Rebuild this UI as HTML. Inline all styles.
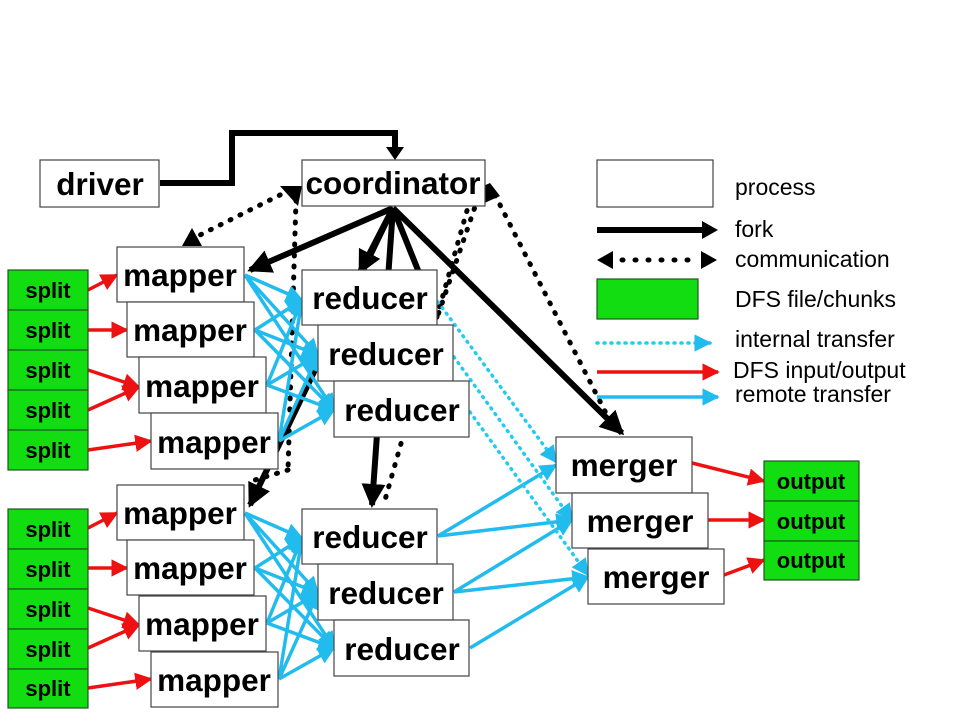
<!DOCTYPE html>
<html><head><style>body{margin:0;background:#fff}svg{display:block}
.b{font-family:"Liberation Sans",Arial,sans-serif;font-weight:bold;font-size:31.5px}
.s{font-family:"Liberation Sans",Arial,sans-serif;font-weight:bold;font-size:22px}
.l{font-family:"Liberation Sans",Arial,sans-serif;font-size:23px}
</style></head><body>
<svg width="954" height="715" viewBox="0 0 954 715" xmlns="http://www.w3.org/2000/svg">
<defs>
<marker id="ak" markerWidth="4" markerHeight="4" refX="3.5" refY="2" orient="auto" markerUnits="strokeWidth"><path d="M0,0L4,2L0,4z" fill="#000"/></marker>
<marker id="ar" markerWidth="5" markerHeight="5" refX="4.5" refY="2.5" orient="auto" markerUnits="strokeWidth"><path d="M0,0L5,2.5L0,5z" fill="#ee1111"/></marker>
<marker id="ab" markerWidth="5" markerHeight="5" refX="4.5" refY="2.5" orient="auto" markerUnits="strokeWidth"><path d="M0,0L5,2.5L0,5z" fill="#22bbee"/></marker>
</defs>
<polyline points="160,183 232,183 232,133 395,133 395,150" fill="none" stroke="#000" stroke-width="6"/>
<path d="M386,147L404,147L395,160z" fill="#000"/>

<g stroke="#000" stroke-width="5" stroke-dasharray="1,10" stroke-linecap="round" fill="none">
<line x1="290" y1="190" x2="190" y2="240"/>
<line x1="296" y1="200" x2="288" y2="470"/>
<line x1="288" y1="470" x2="255" y2="480"/>
<line x1="478" y1="198" x2="438" y2="315"/>
<line x1="470" y1="200" x2="385" y2="500"/>
<line x1="495" y1="195" x2="612" y2="425"/>
</g>
<path d="M280,186L302,186L298,206z" fill="#000"/>
<path d="M182,246L192,228L202,246z" fill="#000"/>
<path d="M468,193L490,183L500,196L480,205z" fill="#000"/>

<g stroke="#000" stroke-width="6" fill="none" marker-end="url(#ak)">
<line x1="393" y1="208" x2="250" y2="270"/>
<line x1="393" y1="208" x2="430" y2="300"/>
<line x1="393" y1="208" x2="372" y2="505"/>
<line x1="393" y1="208" x2="622" y2="433"/>
<line x1="393" y1="208" x2="250" y2="505"/>
<line x1="393" y1="208" x2="360" y2="272"/>
</g>

<g stroke="#22bbee" stroke-width="3.5" fill="none" marker-end="url(#ab)">
<line x1="245" y1="275" x2="302" y2="300"/><line x1="245" y1="275" x2="318" y2="355"/><line x1="245" y1="275" x2="334" y2="410"/>
<line x1="255" y1="330" x2="302" y2="300"/><line x1="255" y1="330" x2="318" y2="355"/><line x1="255" y1="330" x2="334" y2="410"/>
<line x1="267" y1="385" x2="302" y2="300"/><line x1="267" y1="385" x2="318" y2="355"/><line x1="267" y1="385" x2="334" y2="410"/>
<line x1="279" y1="441" x2="302" y2="300"/><line x1="279" y1="441" x2="318" y2="355"/><line x1="279" y1="441" x2="334" y2="410"/>
<line x1="245" y1="513" x2="302" y2="538"/><line x1="245" y1="513" x2="318" y2="593"/><line x1="245" y1="513" x2="334" y2="648"/>
<line x1="255" y1="568" x2="302" y2="538"/><line x1="255" y1="568" x2="318" y2="593"/><line x1="255" y1="568" x2="334" y2="648"/>
<line x1="267" y1="623" x2="302" y2="538"/><line x1="267" y1="623" x2="318" y2="593"/><line x1="267" y1="623" x2="334" y2="648"/>
<line x1="279" y1="679" x2="302" y2="538"/><line x1="279" y1="679" x2="318" y2="593"/><line x1="279" y1="679" x2="334" y2="648"/>
<line x1="438" y1="536" x2="556" y2="465"/><line x1="438" y1="536" x2="572" y2="520"/>
<line x1="454" y1="592" x2="572" y2="520"/><line x1="454" y1="592" x2="588" y2="577"/>
<line x1="470" y1="648" x2="588" y2="577"/>
</g>
<g stroke="#22ccee" stroke-width="3.5" stroke-dasharray="1,6" stroke-linecap="round" fill="none" marker-end="url(#ab)">
<line x1="438" y1="302" x2="556" y2="462"/>
<line x1="454" y1="357" x2="572" y2="520"/>
<line x1="470" y1="412" x2="588" y2="575"/>
</g>
<g stroke="#ee1111" stroke-width="3.5" fill="none" marker-end="url(#ar)">
<line x1="88" y1="290" x2="117" y2="275"/><line x1="88" y1="330" x2="127" y2="330"/>
<line x1="88" y1="370" x2="139" y2="387"/><line x1="88" y1="410" x2="139" y2="387"/>
<line x1="88" y1="450" x2="151" y2="441"/>
<line x1="88" y1="528" x2="117" y2="513"/><line x1="88" y1="568" x2="127" y2="568"/>
<line x1="88" y1="608" x2="139" y2="625"/><line x1="88" y1="648" x2="139" y2="625"/>
<line x1="88" y1="688" x2="151" y2="679"/>
<line x1="692" y1="463" x2="764" y2="481"/><line x1="708" y1="520" x2="764" y2="520"/><line x1="724" y1="575" x2="764" y2="560"/>
</g>

<g fill="#fff" stroke="#444" stroke-width="1.2">
<rect x="40" y="160" width="119" height="47"/>
<rect x="302" y="160" width="183" height="46"/>
<rect x="117" y="247" width="127" height="55"/>
<rect x="127" y="302" width="127" height="55"/>
<rect x="139" y="357" width="127" height="56"/>
<rect x="151" y="413" width="127" height="56"/>
<rect x="117" y="485" width="127" height="55"/>
<rect x="127" y="540" width="127" height="55"/>
<rect x="139" y="596" width="127" height="55"/>
<rect x="151" y="652" width="127" height="55"/>
<rect x="302" y="270" width="135" height="55"/>
<rect x="318" y="325" width="135" height="56"/>
<rect x="334" y="381" width="135" height="56"/>
<rect x="302" y="509" width="135" height="55"/>
<rect x="318" y="564" width="135" height="56"/>
<rect x="334" y="620" width="135" height="56"/>
<rect x="556" y="437" width="136" height="56"/>
<rect x="572" y="493" width="136" height="55"/>
<rect x="588" y="549" width="136" height="55"/>
<rect x="597" y="160" width="116" height="47"/>
</g>
<g fill="#11dd11" stroke="#225522" stroke-width="1.2">
<rect x="8" y="270" width="80" height="40"/><rect x="8" y="310" width="80" height="40"/><rect x="8" y="350" width="80" height="40"/><rect x="8" y="390" width="80" height="40"/><rect x="8" y="430" width="80" height="40"/>
<rect x="8" y="509" width="80" height="40"/><rect x="8" y="549" width="80" height="40"/><rect x="8" y="589" width="80" height="40"/><rect x="8" y="629" width="80" height="40"/><rect x="8" y="669" width="80" height="39"/>
<rect x="764" y="461" width="95" height="40"/><rect x="764" y="501" width="95" height="40"/><rect x="764" y="541" width="95" height="39"/>
<rect x="597" y="279" width="101" height="40"/>
</g>

<g class="b" text-anchor="middle">
<text x="100" y="195">driver</text>
<text x="393" y="194">coordinator</text>
<text x="180" y="286">mapper</text><text x="190" y="341">mapper</text><text x="202" y="397">mapper</text><text x="214" y="453">mapper</text>
<text x="180" y="524">mapper</text><text x="190" y="579">mapper</text><text x="202" y="635">mapper</text><text x="214" y="691">mapper</text>
<text x="370" y="309">reducer</text><text x="386" y="365">reducer</text><text x="402" y="421">reducer</text>
<text x="370" y="548">reducer</text><text x="386" y="604">reducer</text><text x="402" y="660">reducer</text>
<text x="624" y="476">merger</text><text x="640" y="532">merger</text><text x="656" y="588">merger</text>
</g>
<g class="s" text-anchor="middle">
<text x="48" y="298">split</text><text x="48" y="338">split</text><text x="48" y="378">split</text><text x="48" y="418">split</text><text x="48" y="458">split</text>
<text x="48" y="537">split</text><text x="48" y="577">split</text><text x="48" y="617">split</text><text x="48" y="657">split</text><text x="48" y="696">split</text>
<text x="811" y="489">output</text><text x="811" y="529">output</text><text x="811" y="568">output</text>
</g>

<line x1="597" y1="230" x2="705" y2="230" stroke="#000" stroke-width="6"/>
<path d="M702,221L718,230L702,239z" fill="#000"/>
<line x1="622" y1="260" x2="696" y2="260" stroke="#000" stroke-width="5" stroke-dasharray="1,12" stroke-linecap="round"/>
<path d="M613,251L597,260L613,269z" fill="#000"/><path d="M701,251L717,260L701,269z" fill="#000"/>
<line x1="597" y1="343" x2="710" y2="343" stroke="#22ccee" stroke-width="3.5" stroke-dasharray="1,6" stroke-linecap="round" marker-end="url(#ab)"/>
<line x1="597" y1="372" x2="718" y2="372" stroke="#ee1111" stroke-width="3.5" marker-end="url(#ar)"/>
<line x1="597" y1="397" x2="718" y2="397" stroke="#22bbee" stroke-width="3.5" marker-end="url(#ab)"/>
<g class="l">
<text x="735" y="195">process</text>
<text x="735" y="237">fork</text>
<text x="735" y="267">communication</text>
<text x="735" y="307">DFS file/chunks</text>
<text x="735" y="347">internal transfer</text>
<text x="733" y="378">DFS input/output</text>
<text x="735" y="402">remote transfer</text>
</g>
</svg>
</body></html>
